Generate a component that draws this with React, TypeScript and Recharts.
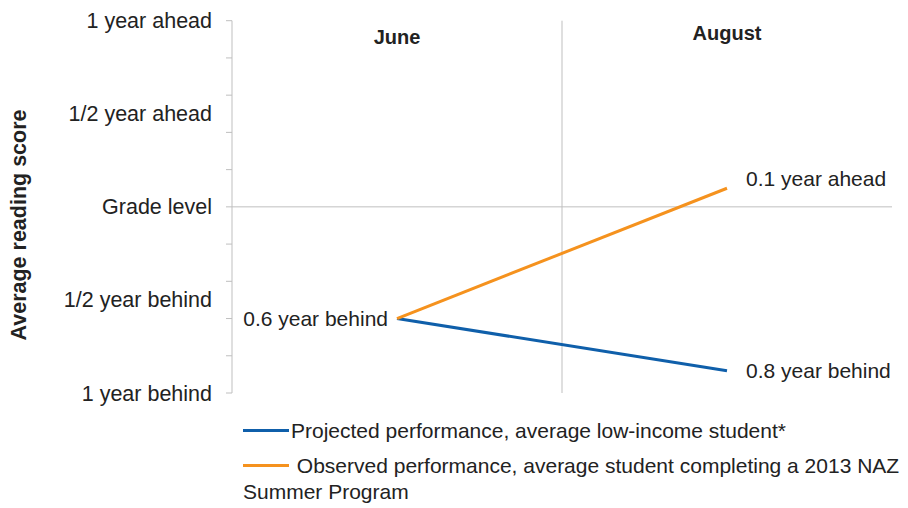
import React from 'react';
import { LineChart, Line, XAxis, YAxis, ReferenceLine, Legend, Label } from 'recharts';

const months = ['June', 'August'];
const projected = [-0.6, -0.88];
const observed = [-0.6, 0.1];
const projectedLabels = ['', '0.8 year behind'];
const observedLabels = ['0.6 year behind', '0.1 year ahead'];

const tickMarks = [-1, -0.8, -0.6, -0.4, -0.2, 0, 0.2, 0.4, 0.6, 0.8, 1];
const tickLabelValues = [-1, -0.5, 0, 0.5, 1];
const tickLabelNames = ['1 year behind', '1/2 year behind', 'Grade level', '1/2 year ahead', '1 year ahead'];

const seriesNames = [
  'Projected performance, average low-income student*',
  ' Observed performance, average student completing a 2013 NAZ Summer Program',
];

const BLUE = '#0F5FAA';
const ORANGE = '#F5921E';
const GRID = '#BFBFBF';
const TEXT = '#222222';
const FONT = '"Liberation Sans", Arial, sans-serif';

const chartData = months.map((m, i) => ({
  x: i + 0.5,
  month: m,
  projected: projected[i],
  observed: observed[i],
}));

const allYTicks = Array.from(new Set([...tickMarks, ...tickLabelValues])).sort((a, b) => a - b);

const YTick = (props: any) => {
  const { x, y, payload } = props;
  const v = payload.value;
  const hasMark = tickMarks.some((t) => Math.abs(t - v) < 1e-6);
  const li = tickLabelValues.findIndex((t) => Math.abs(t - v) < 1e-6);
  return (
    <g>
      {hasMark && <line x1={x - 6} x2={x} y1={y} y2={y} stroke={GRID} strokeWidth={1} />}
      {li >= 0 && (
        <text x={x - 20} y={y} dy={7.5} textAnchor="end" fontSize={21.5} fill={TEXT} fontFamily={FONT}>
          {tickLabelNames[li]}
        </text>
      )}
    </g>
  );
};

const XTick = (props: any) => {
  const { x, payload } = props;
  const idx = Math.round(payload.value - 0.5);
  return (
    <text x={x} y={idx === 0 ? 44 : 40} textAnchor="middle" fontSize={20} fontWeight="bold" fill={TEXT} fontFamily={FONT}>
      {months[idx]}
    </text>
  );
};

const makePointLabel = (labels: string[]) => (props: any) => {
  const { x, y, index } = props;
  const text = labels[index];
  if (!text) return null;
  const left = index === 0;
  const dyShift = labels === observedLabels && index === 1 ? -10 : 0;
  return (
    <text
      x={left ? x - 9 : x + 19}
      y={y + dyShift}
      dy={7.5}
      textAnchor={left ? 'end' : 'start'}
      fontSize={21}
      fill={TEXT}
      fontFamily={FONT}
    >
      {text}
    </text>
  );
};

const LegendContent = () => (
  <div style={{ fontFamily: FONT, fontSize: 21, color: TEXT, lineHeight: '26px', width: 665 }}>
    {[BLUE, ORANGE].map((c, i) => (
      <div key={i} style={{ marginBottom: i === 0 ? 9 : 0 }}>
        <span
          style={{
            display: 'inline-block',
            width: 46,
            height: 3,
            background: c,
            verticalAlign: 'middle',
            marginRight: 2,
            position: 'relative',
            top: -2,
          }}
        />
        <span style={{ whiteSpace: 'pre-wrap' }}>{seriesNames[i]}</span>
      </div>
    ))}
  </div>
);

export default function App() {
  return (
    <div style={{ position: 'absolute', left: 0, top: 0, background: '#fff' }}>
      <LineChart width={908} height={508} data={chartData} margin={{ top: 19.7, right: 16, bottom: 115, left: 0 }}>
        <XAxis
          dataKey="x"
          type="number"
          domain={[0, 2]}
          ticks={[0.5, 1.5]}
          orientation="top"
          height={1}
          axisLine={false}
          tickLine={false}
          tick={<XTick />}
        />
        <YAxis
          type="number"
          domain={[-1, 1]}
          ticks={allYTicks}
          width={232}
          interval={0}
          axisLine={{ stroke: GRID }}
          tickLine={false}
          tickSize={0}
          tickMargin={0}
          tick={<YTick />}
        >
          <Label
            content={() => (
              <text
                transform="translate(26,225) rotate(-90)"
                textAnchor="middle"
                fontSize={21.5}
                fontWeight="bold"
                fill={TEXT}
                fontFamily={FONT}
              >
                Average reading score
              </text>
            )}
          />
        </YAxis>
        <ReferenceLine y={0} stroke={GRID} strokeWidth={1} />
        <ReferenceLine x={1} stroke={GRID} strokeWidth={1} />
        <Line
          dataKey="projected"
          stroke={BLUE}
          strokeWidth={3}
          dot={false}
          activeDot={false}
          isAnimationActive={false}
          label={makePointLabel(projectedLabels)}
        />
        <Line
          dataKey="observed"
          stroke={ORANGE}
          strokeWidth={3}
          dot={false}
          activeDot={false}
          isAnimationActive={false}
          label={makePointLabel(observedLabels)}
        />
        <Legend
          layout="horizontal"
          verticalAlign="middle"
          align="center"
          wrapperStyle={{ top: 418, left: 243, width: 665 }}
          content={<LegendContent />}
        />
      </LineChart>
    </div>
  );
}
